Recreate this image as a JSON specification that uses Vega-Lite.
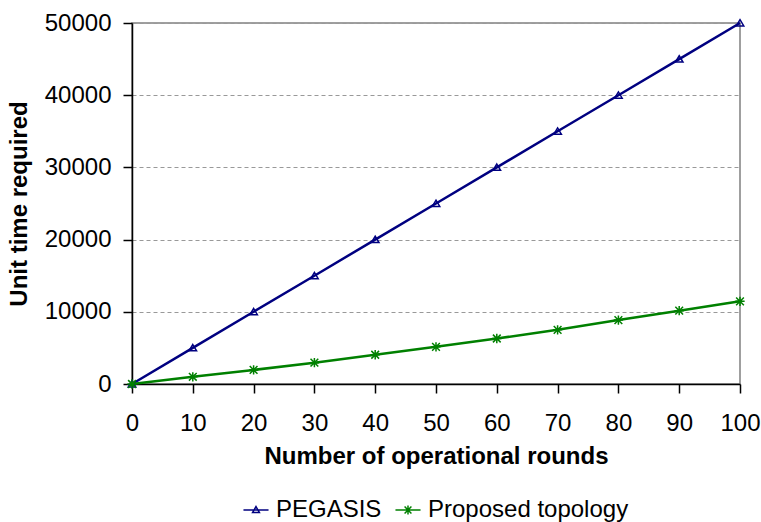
{
  "$schema": "https://vega.github.io/schema/vega-lite/v6.json",
  "autosize": "none",
  "padding": {"left": 132, "top": 23, "right": 21, "bottom": 138},
  "width": 608,
  "height": 361,
  "background": "white",
  "config": {
    "font": "Liberation Sans",
    "view": {"stroke": "#808080", "strokeWidth": 1.5},
    "axis": {"labelFont": "Liberation Sans", "titleFont": "Liberation Sans", "labelColor": "black", "titleColor": "black"},
    "legend": {"layout": {"bottom": {"anchor": "middle"}}}
  },
  "data": {
    "values": [
      {"rounds": 0, "time": 0, "series": "PEGASIS"},
      {"rounds": 10, "time": 5000, "series": "PEGASIS"},
      {"rounds": 20, "time": 10000, "series": "PEGASIS"},
      {"rounds": 30, "time": 15000, "series": "PEGASIS"},
      {"rounds": 40, "time": 20000, "series": "PEGASIS"},
      {"rounds": 50, "time": 25000, "series": "PEGASIS"},
      {"rounds": 60, "time": 30000, "series": "PEGASIS"},
      {"rounds": 70, "time": 35000, "series": "PEGASIS"},
      {"rounds": 80, "time": 40000, "series": "PEGASIS"},
      {"rounds": 90, "time": 45000, "series": "PEGASIS"},
      {"rounds": 100, "time": 50000, "series": "PEGASIS"},
      {"rounds": 0, "time": 0, "series": "Proposed topology"},
      {"rounds": 10, "time": 1000, "series": "Proposed topology"},
      {"rounds": 20, "time": 1950, "series": "Proposed topology"},
      {"rounds": 30, "time": 2950, "series": "Proposed topology"},
      {"rounds": 40, "time": 4050, "series": "Proposed topology"},
      {"rounds": 50, "time": 5150, "series": "Proposed topology"},
      {"rounds": 60, "time": 6300, "series": "Proposed topology"},
      {"rounds": 70, "time": 7500, "series": "Proposed topology"},
      {"rounds": 80, "time": 8850, "series": "Proposed topology"},
      {"rounds": 90, "time": 10150, "series": "Proposed topology"},
      {"rounds": 100, "time": 11450, "series": "Proposed topology"}
    ]
  },
  "encoding": {
    "x": {
      "field": "rounds", "type": "quantitative",
      "scale": {"domain": [0, 100], "nice": false},
      "axis": {
        "values": [0, 10, 20, 30, 40, 50, 60, 70, 80, 90, 100], "format": "d",
        "title": "Number of operational rounds",
        "titleFontSize": 24, "titleFontWeight": "bold", "titlePadding": 9,
        "labelFontSize": 24, "labelPadding": 18, "tickSize": 9, "tickColor": "black",
        "domainColor": "black", "domainWidth": 1.5, "tickWidth": 1.5,
        "grid": false, "labelFlush": false
      }
    },
    "y": {
      "field": "time", "type": "quantitative",
      "scale": {"domain": [0, 50000], "nice": false},
      "axis": {
        "values": [0, 10000, 20000, 30000, 40000, 50000], "format": "d",
        "title": "Unit time required",
        "titleFontSize": 24, "titleFontWeight": "bold", "titlePadding": 13,
        "labelFontSize": 24, "labelPadding": 12, "tickSize": 9, "tickColor": "black",
        "domainColor": "black", "domainWidth": 1.5, "tickWidth": 1.5,
        "grid": true, "gridColor": "#999999", "gridDash": [4, 3], "gridWidth": 1,
        "labelFlush": false
      }
    },
    "color": {
      "field": "series", "type": "nominal",
      "scale": {"domain": ["PEGASIS", "Proposed topology"], "range": ["#000080", "#008000"]},
      "legend": {
        "orient": "bottom", "direction": "horizontal", "title": null,
        "labelFontSize": 24, "labelFont": "Liberation Sans", "labelColor": "black", "labelLimit": 400,
        "symbolSize": 130, "symbolStrokeWidth": 1.5, "symbolFillColor": "transparent",
        "columnPadding": 10, "labelOffset": 8, "offset": 30,
        "encode": {
          "symbols": {
            "update": {
              "shape": {"signal": "datum.value === 'PEGASIS' ? 'M-2.2,0H2.2M0,-0.6L0.6,0.45H-0.6Z' : 'M-2.2,0H2.2M-0.6,-0.6L0.6,0.6M-0.6,0.6L0.6,-0.6M0,-0.8V0.8'"},
              "fill": {"value": "transparent"}
            }
          }
        }
      }
    }
  },
  "layer": [
    {
      "mark": {"type": "line", "strokeWidth": 2.5},
      "encoding": {}
    },
    {
      "transform": [{"filter": "datum.series === 'PEGASIS'"}],
      "mark": {"type": "point", "filled": false, "strokeWidth": 1.5, "size": 70, "opacity": 1, "shape": "M0,-0.8L0.9,0.7H-0.9Z"},
      "encoding": {}
    },
    {
      "transform": [{"filter": "datum.series === 'Proposed topology'"}],
      "mark": {"type": "point", "filled": false, "strokeWidth": 1.5, "size": 60, "opacity": 1, "shape": "M-1,-1L1,1M-1,1L1,-1M0,-1.2V1.2M-1.2,0H1.2"},
      "encoding": {}
    },
    {
      "data": {"values": [{"top": 50000}]},
      "mark": {"type": "rule", "color": "black", "strokeWidth": 1.5},
      "encoding": {"y": {"field": "top", "type": "quantitative"}, "x": {"datum": 0}, "x2": {"datum": 100}, "color": {"value": "black"}}
    }
  ]
}
